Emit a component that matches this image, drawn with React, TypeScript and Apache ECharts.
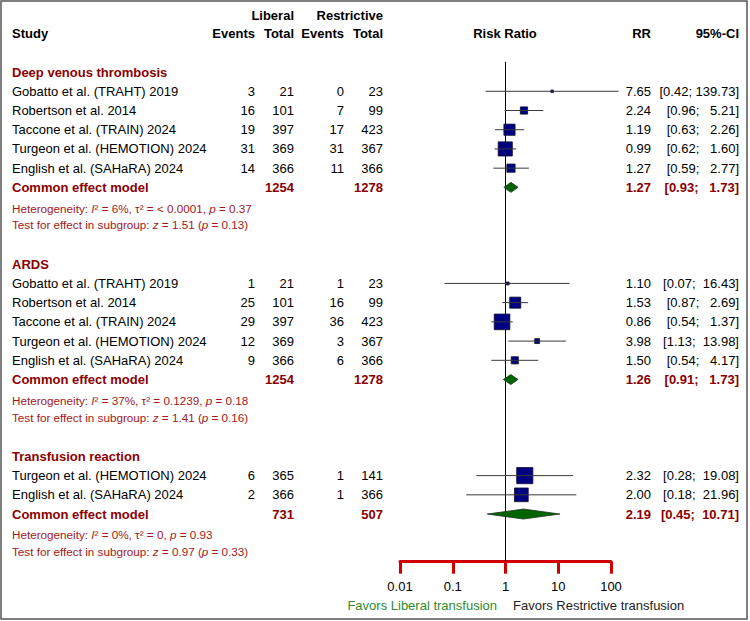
import React, { useEffect, useRef } from "react";
import * as echarts from "echarts";

// ---- Study data -----------------------------------------------------------
const subgroupTitles = ["Deep venous thrombosis", "ARDS", "Transfusion reaction"];

const studyNames = [
  "Gobatto et al. (TRAHT) 2019",
  "Robertson et al. 2014",
  "Taccone et al. (TRAIN) 2024",
  "Turgeon et al. (HEMOTION) 2024",
  "English et al. (SAHaRA) 2024",
  "Gobatto et al. (TRAHT) 2019",
  "Robertson et al. 2014",
  "Taccone et al. (TRAIN) 2024",
  "Turgeon et al. (HEMOTION) 2024",
  "English et al. (SAHaRA) 2024",
  "Turgeon et al. (HEMOTION) 2024",
  "English et al. (SAHaRA) 2024",
];
const studyGroup = [0, 0, 0, 0, 0, 1, 1, 1, 1, 1, 2, 2];
const libEvents = [3, 16, 19, 31, 14, 1, 25, 29, 12, 9, 6, 2];
const libTotal = [21, 101, 397, 369, 366, 21, 101, 397, 369, 366, 365, 366];
const resEvents = [0, 7, 17, 31, 11, 1, 16, 36, 3, 6, 1, 1];
const resTotal = [23, 99, 423, 367, 366, 23, 99, 423, 367, 366, 141, 366];
const rr = [7.65, 2.24, 1.19, 0.99, 1.27, 1.1, 1.53, 0.86, 3.98, 1.5, 2.32, 2.0];
const rrLower = [0.42, 0.96, 0.63, 0.62, 0.59, 0.07, 0.87, 0.54, 1.13, 0.54, 0.28, 0.18];
const rrUpper = [139.73, 5.21, 2.26, 1.6, 2.77, 16.43, 2.69, 1.37, 13.98, 4.17, 19.08, 21.96];
// weight within subgroup (%), shown as box area
const weightPct = [1.4, 11.6, 27.7, 44.4, 15.0, 1.9, 27.1, 54.4, 5.3, 11.3, 58.2, 41.8];

// ---- Pooled (common effect) results ---------------------------------------
const pooledRR = [1.27, 1.26, 2.19];
const pooledLower = [0.93, 0.91, 0.45];
const pooledUpper = [1.73, 1.73, 10.71];
const pooledLibTotal = [1254, 1254, 731];
const pooledResTotal = [1278, 1278, 507];
const hetI2 = ["6%", "37%", "0%"];
const hetTau2 = ["< 0.0001", "0.1239", "0"];
const hetP = ["0.37", "0.18", "0.93"];
const testZ = ["1.51", "1.41", "0.97"];
const testP = ["0.13", "0.16", "0.33"];

// ---- Axis ------------------------------------------------------------------
const xTicks = [0.01, 0.1, 1, 10, 100];
const favorsLeft = "Favors Liberal transfusion";
const favorsRight = "Favors Restrictive transfusion";

const FONT = '"Liberation Sans", Arial, Helvetica, sans-serif';
const DARKRED = "#8B0000";
const HETRED = "#A31818";
const GREEN = "#2E8B2E";
const NAVY = "#000080";

// table column anchors
const COL = {
  study: 12,
  libEvents: 255,
  libTotal: 294,
  resEvents: 344,
  resTotal: 383,
  plot: 505,
  rr: 651,
  ci: 739,
};

const NBSP = "\u00A0";
const fmt2 = (v: number) => v.toFixed(2);
const ciText = (lo: number, hi: number) =>
  "[" + fmt2(lo) + ";" + NBSP + fmt2(hi).padStart(6, NBSP) + "]";

type RowKind = "colhead1" | "colhead2" | "header" | "study" | "pooled" | "het" | "test";
type Row = { kind: RowKind; row: number; idx: number };

const rows: Row[] = [
  { kind: "colhead1", row: -2.97, idx: 0 },
  { kind: "colhead2", row: -2, idx: 0 },
];
const studyRow: number[] = [];
const pooledRow: number[] = [];
{
  let r = 0;
  subgroupTitles.forEach((_, g) => {
    rows.push({ kind: "header", row: r, idx: g });
    studyGroup.forEach((sg, i) => {
      if (sg !== g) return;
      r += 1;
      studyRow[i] = r;
      rows.push({ kind: "study", row: r, idx: i });
    });
    r += 1;
    pooledRow[g] = r;
    rows.push({ kind: "pooled", row: r, idx: g });
    rows.push({ kind: "het", row: r + 1.08, idx: g });
    rows.push({ kind: "test", row: r + 1.95, idx: g });
    r += 4;
  });
}

const Y_MIN = -0.54;
const Y_MAX = 25.48;

function buildOption(): echarts.EChartsOption {
  const boxData = studyNames.map((_, i) => [rr[i], studyRow[i], weightPct[i]]);
  const ciData = studyNames.map((_, i) => [rrLower[i], rrUpper[i], studyRow[i]]);
  const diamondData = pooledRR.map((v, g) => [pooledLower[g], v, pooledUpper[g], pooledRow[g]]);

  const renderTable = (params: any, api: any) => {
    const item = rows[params.dataIndex];
    const y = api.coord([1, api.value(1)])[1];
    const children: any[] = [];
    const put = (
      x: number,
      text: string,
      align: "left" | "right" | "center",
      opts: { bold?: boolean; color?: string; size?: number; rich?: any } = {}
    ) => {
      children.push({
        type: "text",
        x,
        y,
        style: {
          text,
          align,
          verticalAlign: "middle",
          fill: opts.color || "#000",
          fontSize: opts.size || 13,
          fontWeight: opts.bold ? "bold" : "normal",
          fontFamily: FONT,
          rich: opts.rich,
        },
      });
    };
    switch (item.kind) {
      case "colhead1":
        put(COL.libTotal, "Liberal", "right", { bold: true });
        put(COL.resTotal, "Restrictive", "right", { bold: true });
        break;
      case "colhead2":
        put(COL.study, "Study", "left", { bold: true });
        put(COL.libEvents, "Events", "right", { bold: true });
        put(COL.libTotal, "Total", "right", { bold: true });
        put(COL.resEvents, "Events", "right", { bold: true });
        put(COL.resTotal, "Total", "right", { bold: true });
        put(COL.plot, "Risk Ratio", "center", { bold: true });
        put(COL.rr, "RR", "right", { bold: true });
        put(COL.ci, "95%-CI", "right", { bold: true });
        break;
      case "header":
        put(COL.study, subgroupTitles[item.idx], "left", { bold: true, color: DARKRED });
        break;
      case "study": {
        const i = item.idx;
        put(COL.study, studyNames[i], "left");
        put(COL.libEvents, String(libEvents[i]), "right");
        put(COL.libTotal, String(libTotal[i]), "right");
        put(COL.resEvents, String(resEvents[i]), "right");
        put(COL.resTotal, String(resTotal[i]), "right");
        put(COL.rr, fmt2(rr[i]), "right");
        put(COL.ci, ciText(rrLower[i], rrUpper[i]), "right");
        break;
      }
      case "pooled": {
        const g = item.idx;
        const o = { bold: true, color: DARKRED };
        put(COL.study, "Common effect model", "left", o);
        put(COL.libTotal, String(pooledLibTotal[g]), "right", o);
        put(COL.resTotal, String(pooledResTotal[g]), "right", o);
        put(COL.rr, fmt2(pooledRR[g]), "right", o);
        put(COL.ci, ciText(pooledLower[g], pooledUpper[g]), "right", o);
        break;
      }
      case "het":
      case "test": {
        const g = item.idx;
        const size = 11.7;
        const rich = {
          i: { fontStyle: "italic", fill: HETRED, fontSize: size, fontFamily: FONT },
        };
        const text =
          item.kind === "het"
            ? "Heterogeneity: {i|I}\u00B2 = " + hetI2[g] + ", \u03C4\u00B2 = " + hetTau2[g] + ", {i|p} = " + hetP[g]
            : "Test for effect in subgroup: {i|z} = " + testZ[g] + " ({i|p} = " + testP[g] + ")";
        put(COL.study, text, "left", { color: HETRED, size, rich });
        break;
      }
    }
    return { type: "group", children };
  };

  return {
    animation: false,
    backgroundColor: "#fff",
    grid: { left: 400, right: 139, top: 61.7, bottom: 59.3, containLabel: false },
    xAxis: {
      type: "log",
      logBase: 10,
      min: xTicks[0],
      max: xTicks[xTicks.length - 1],
      position: "bottom",
      axisLine: { show: true, onZero: false, lineStyle: { color: "#d00000", width: 3 } },
      axisTick: { show: true, inside: false, length: 12, lineStyle: { color: "#d00000", width: 3 } },
      axisLabel: {
        show: true,
        color: "#000",
        fontSize: 13,
        fontFamily: FONT,
        margin: 18,
        formatter: (v: number) => String(Number(v.toPrecision(6))),
      },
      splitLine: { show: false },
    },
    yAxis: {
      type: "value",
      inverse: true,
      min: Y_MIN,
      max: Y_MAX,
      show: false,
    },
    graphic: [
      {
        type: "rect",
        shape: { x: 1, y: 1, width: 746, height: 618 },
        style: { fill: "none", stroke: "#555", lineWidth: 1.5 },
        z: 100,
      },
      {
        type: "text",
        x: COL.plot - 8,
        y: 605,
        style: { text: favorsLeft, align: "right", verticalAlign: "middle", fill: GREEN, fontSize: 13, fontFamily: FONT },
      },
      {
        type: "text",
        x: COL.plot + 8,
        y: 605,
        style: { text: favorsRight, align: "left", verticalAlign: "middle", fill: "#222", fontSize: 13, fontFamily: FONT },
      },
    ],
    series: [
      {
        // no-effect reference line at RR = 1
        type: "line",
        data: [
          [1, Y_MIN],
          [1, Y_MAX],
        ],
        symbol: "none",
        lineStyle: { color: "#000", width: 1 },
        z: 1,
        silent: true,
      },
      {
        type: "scatter",
        data: boxData,
        symbol: "rect",
        symbolSize: (v: number[]) => Math.max(2.5, 2.12 * Math.sqrt(v[2])),
        itemStyle: { color: NAVY, borderColor: "#0b0b30", borderWidth: 0.8, opacity: 1 },
        z: 2,
        silent: true,
      },
      {
        type: "custom",
        data: ciData,
        encode: { x: [0, 1], y: 2 },
        renderItem: (params: any, api: any) => {
          const a = api.coord([api.value(0), api.value(2)]);
          const b = api.coord([api.value(1), api.value(2)]);
          return {
            type: "line",
            shape: { x1: a[0], y1: a[1], x2: b[0], y2: b[1] },
            style: { stroke: "#3a3a3a", lineWidth: 1 },
          };
        },
        z: 3,
        silent: true,
      },
      {
        type: "custom",
        data: diamondData,
        encode: { x: [0, 1, 2], y: 3 },
        renderItem: (params: any, api: any) => {
          const row = api.value(3);
          const lo = api.coord([api.value(0), row]);
          const mid = api.coord([api.value(1), row]);
          const hi = api.coord([api.value(2), row]);
          const h = 5;
          return {
            type: "polygon",
            shape: {
              points: [
                [lo[0], lo[1]],
                [mid[0], mid[1] - h],
                [hi[0], hi[1]],
                [mid[0], mid[1] + h],
              ],
            },
            style: { fill: "#006400", stroke: "#1e321e", lineWidth: 0.8 },
          };
        },
        z: 4,
        silent: true,
      },
      {
        type: "custom",
        data: rows.map((r) => [1, r.row]),
        encode: { x: 0, y: 1 },
        clip: false,
        renderItem: renderTable,
        z: 5,
        silent: true,
      },
    ],
  } as echarts.EChartsOption;
}

export default function App() {
  const ref = useRef<HTMLDivElement>(null);
  useEffect(() => {
    if (!ref.current) return;
    const chart = echarts.init(ref.current, undefined, { renderer: "svg" });
    chart.setOption(buildOption());
    return () => chart.dispose();
  }, []);
  return (
    <div
      ref={ref}
      style={{ position: "absolute", left: 0, top: 0, width: 750, height: 621, background: "#fff" }}
    />
  );
}
